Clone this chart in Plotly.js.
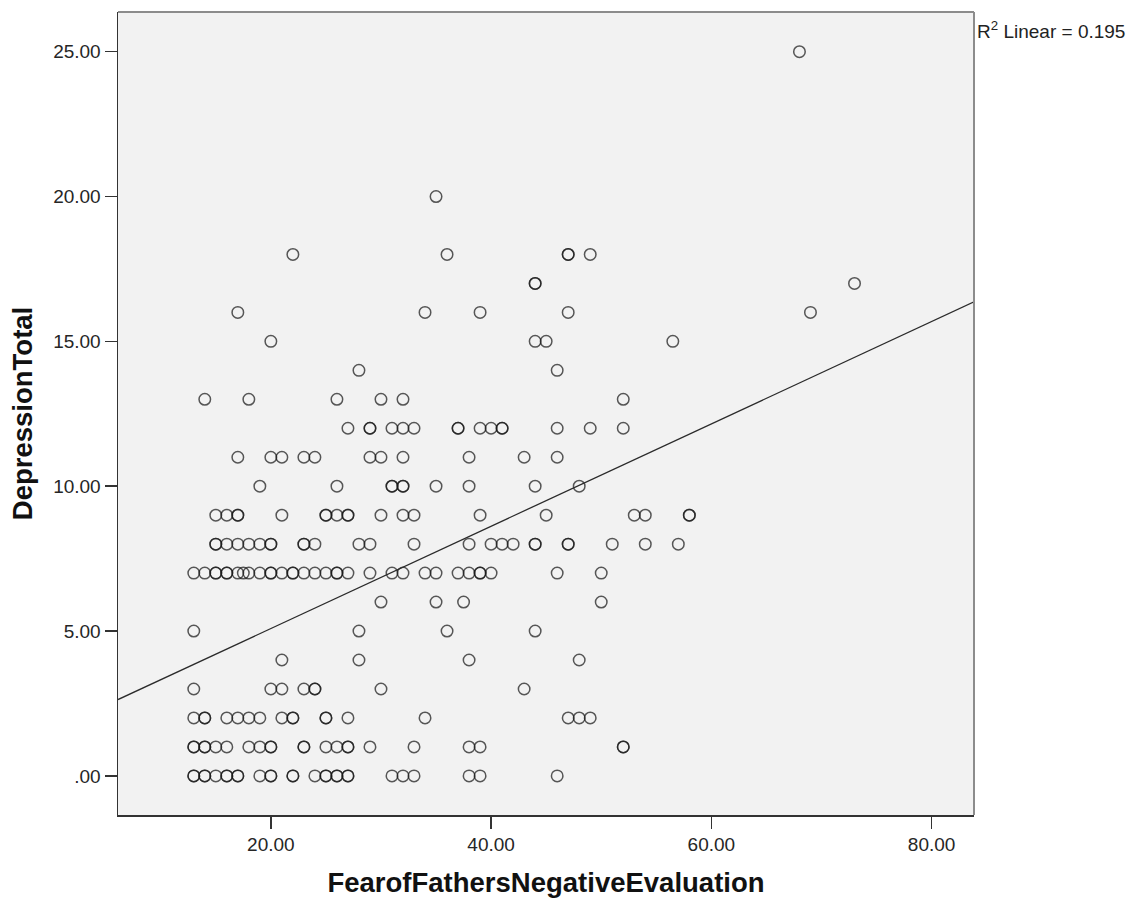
<!DOCTYPE html>
<html>
<head>
<meta charset="utf-8">
<script src="https://cdn.plot.ly/plotly-3.0.1.min.js"></script>
<style>
  html, body { margin: 0; padding: 0; background: #ffffff; }
  #chart { width: 1144px; height: 899px; }
</style>
</head>
<body>
<div id="chart"></div>
<script>
// FearofFathersNegativeEvaluation values observed at each DepressionTotal level
const fearAtDep0  = [13,13,14,14,15,16,16,17,17,19,20,20,22,22,24,25,25,26,26,27,27,31,32,33,38,39,46];
const fearAtDep1  = [13,13,14,14,15,16,18,19,20,20,23,23,25,26,27,27,29,33,38,39,52,52];
const fearAtDep2  = [13,14,14,16,17,18,19,21,22,22,25,25,27,34,47,48,49];
const fearAtDep3  = [13,20,21,23,24,24,30,43];
const fearAtDep4  = [21,28,38,48];
const fearAtDep5  = [13,28,36,44];
const fearAtDep6  = [30,35,37.5,50];
const fearAtDep7  = [13,14,15,15,16,16,17,17.5,18,19,20,20,21,22,22,23,24,25,26,26,27,29,31,32,34,35,37,38,39,39,40,46,50];
const fearAtDep8  = [15,15,16,17,18,19,20,20,23,23,24,28,29,33,38,40,41,42,44,44,47,47,51,54,57];
const fearAtDep9  = [15,16,17,17,21,25,25,26,27,27,30,32,33,39,45,53,54,58,58];
const fearAtDep10 = [19,26,31,31,32,32,35,38,44,48];
const fearAtDep11 = [17,20,21,23,24,29,30,32,38,43,46];
const fearAtDep12 = [27,29,29,31,32,33,37,37,39,40,41,41,46,49,52];
const fearAtDep13 = [14,18,26,30,32,52];
const fearAtDep14 = [28,46];
const fearAtDep15 = [20,44,45,56.5];
const fearAtDep16 = [17,34,39,47,69];
const fearAtDep17 = [44,44,73];
const fearAtDep18 = [22,36,47,47,49];
const fearAtDep20 = [35];
const fearAtDep25 = [68];

const depressionLevels = [0,1,2,3,4,5,6,7,8,9,10,11,12,13,14,15,16,17,18,20,25];
const fearGroups = [fearAtDep0,fearAtDep1,fearAtDep2,fearAtDep3,fearAtDep4,fearAtDep5,fearAtDep6,
  fearAtDep7,fearAtDep8,fearAtDep9,fearAtDep10,fearAtDep11,fearAtDep12,fearAtDep13,fearAtDep14,
  fearAtDep15,fearAtDep16,fearAtDep17,fearAtDep18,fearAtDep20,fearAtDep25];

// Fit line (R² Linear = 0.195)
const fitIntercept = 1.555;
const fitSlope = 0.1766;
const rSquared = "0.195";

const xTitle = "FearofFathersNegativeEvaluation";
const yTitle = "DepressionTotal";
const xTickVals = [20,40,60,80];
const xTickText = ["20.00","40.00","60.00","80.00"];
const yTickVals = [0,5,10,15,20,25];
const yTickText = [".00","5.00","10.00","15.00","20.00","25.00"];
const xRange = [6.12, 83.85];
const yRange = [-1.35, 26.37];

const xs = [], ys = [];
depressionLevels.forEach((d, i) => {
  fearGroups[i].forEach(v => { xs.push(v); ys.push(d); });
});

const FONT = "Liberation Sans, Arial, Helvetica, sans-serif";

const scatter = {
  type: "scatter", mode: "markers", x: xs, y: ys,
  marker: { symbol: "circle-open", size: 11.5, color: "rgba(25,25,25,0.72)", line: { width: 1.5 } },
  hoverinfo: "x+y", showlegend: false
};
const fit = {
  type: "scatter", mode: "lines",
  x: [xRange[0], xRange[1]],
  y: [fitIntercept + fitSlope * xRange[0], fitIntercept + fitSlope * xRange[1]],
  line: { color: "#2b2b2b", width: 1.3 }, hoverinfo: "skip", showlegend: false
};

const layout = {
  width: 1144, height: 899,
  margin: { l: 118, r: 170, t: 12, b: 84 },
  paper_bgcolor: "#ffffff", plot_bgcolor: "#f2f2f2",
  font: { family: FONT, color: "#222" },
  xaxis: {
    range: xRange, tickvals: xTickVals, ticktext: xTickText,
    ticks: "outside", ticklen: 12, tickwidth: 1.5, tickcolor: "#333",
    showline: true, linecolor: "#333", linewidth: 1.5,
    showgrid: false, zeroline: false,
    tickfont: { family: FONT, size: 19, color: "#262626" },
    title: { text: "<b>" + xTitle + "</b>", standoff: 18, font: { family: FONT, size: 27.5, color: "#111" } }
  },
  yaxis: {
    range: yRange, tickvals: yTickVals, ticktext: yTickText,
    ticks: "outside", ticklen: 12, tickwidth: 1.5, tickcolor: "#333",
    showline: true, linecolor: "#333", linewidth: 1.5,
    showgrid: false, zeroline: false,
    tickfont: { family: FONT, size: 19, color: "#262626" },
    title: { text: "<b>" + yTitle + "</b>", standoff: 12, font: { family: FONT, size: 27.5, color: "#111" } }
  },
  shapes: [
    { type: "line", xref: "paper", yref: "paper", x0: 0, x1: 1, y0: 1, y1: 1, line: { color: "#8c8c8c", width: 2 } },
    { type: "line", xref: "paper", yref: "paper", x0: 1, x1: 1, y0: 0, y1: 1, line: { color: "#8c8c8c", width: 2 } }
  ],
  annotations: [
    { xref: "paper", yref: "paper", x: 1.001, y: 0.978, xanchor: "left", yanchor: "middle",
      text: "R<sup>2</sup> Linear = " + rSquared, showarrow: false,
      font: { family: FONT, size: 19, color: "#222" } }
  ]
};

Plotly.newPlot("chart", [scatter, fit], layout, { staticPlot: true, displayModeBar: false });
</script>
</body>
</html>
